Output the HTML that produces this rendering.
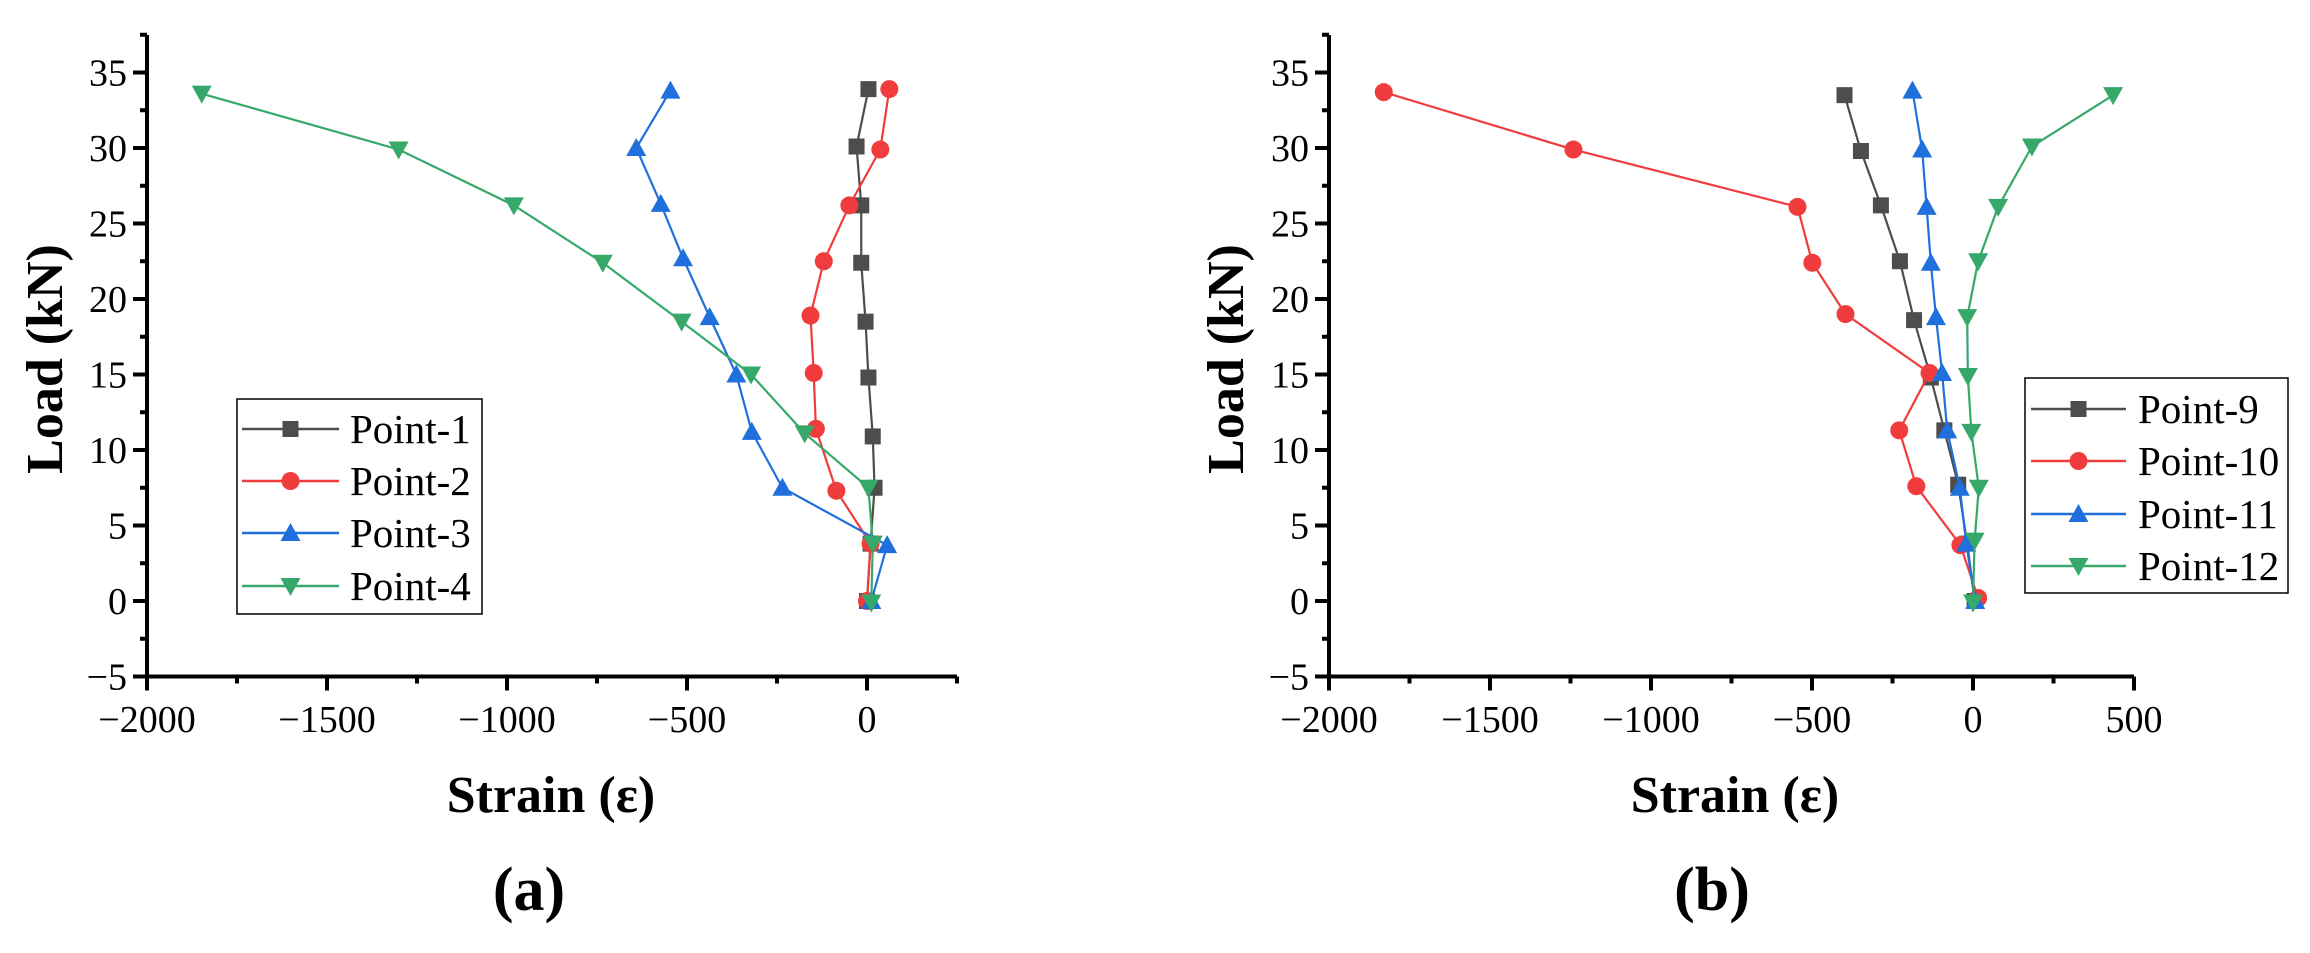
<!DOCTYPE html>
<html><head><meta charset="utf-8"><style>
html,body{margin:0;padding:0;background:#fff;}
svg{display:block;font-family:"Liberation Serif",serif;}
</style></head><body>
<svg id="fig" width="2310" height="953" viewBox="0 0 2310 953" xmlns="http://www.w3.org/2000/svg"></svg>
<script>
const loadsA1=[0,3.8,7.5,10.9,14.8,18.5,22.4,26.2,30.1,33.9];
const strainA1=[0,10,21,16,4,-4,-16,-16,-29,4];
const loadsA2=[0,3.8,7.3,11.4,15.1,18.9,22.5,26.2,29.9,33.9];
const strainA2=[0,10,-85,-142,-148,-157,-120,-49,37,62];
const loadsA3=[0,3.7,7.5,11.2,15.0,18.8,22.7,26.3,30.0,33.8];
const strainA3=[12,56,-235,-320,-363,-437,-511,-573,-641,-546];
const loadsA4=[-0.1,3.8,7.5,11.1,15.0,18.5,22.4,26.2,29.9,33.6];
const strainA4=[12,16,4,-173,-322,-515,-734,-981,-1301,-1848];
const loadsB9=[0,3.8,7.7,11.3,14.8,18.6,22.5,26.2,29.8,33.5];
const strainB9=[5,-18,-46,-89,-131,-183,-227,-286,-348,-399];
const loadsB10=[0.2,3.7,7.6,11.3,15.1,19.0,22.4,26.1,29.9,33.7];
const strainB10=[16,-39,-176,-229,-135,-396,-499,-545,-1241,-1830];
const loadsB11=[0,3.8,7.5,11.3,15.1,18.8,22.4,26.1,29.9,33.8];
const strainB11=[7,-21,-41,-80,-96,-115,-131,-144,-158,-188];
const loadsB12=[-0.1,4.0,7.5,11.2,14.9,18.8,22.5,26.1,30.1,33.5];
const strainB12=[0,5,18,-5,-16,-18,16,78,183,435];
const yTicks=[-5,0,5,10,15,20,25,30,35];
const xTicksA=[-2000,-1500,-1000,-500,0];
const xTicksB=[-2000,-1500,-1000,-500,0,500];
const namesA=["Point-1","Point-2","Point-3","Point-4"];
const namesB=["Point-9","Point-10","Point-11","Point-12"];

const NS="http://www.w3.org/2000/svg";
const svg=document.getElementById('fig');
const colors=["#4d4d4d","#f03c3c","#1f6fdc","#35a86a"];
const markers=["square","circle","up","down"];
function mk(tag,attrs,parent){const e=document.createElementNS(NS,tag);for(const k in attrs)e.setAttribute(k,attrs[k]);(parent||svg).appendChild(e);return e;}
function marker(g,type,x,y,c){
  let e;
  if(type==="square"){e=mk('rect',{x:x-8,y:y-8,width:16,height:16,fill:c},g);}
  else if(type==="circle"){e=mk('circle',{cx:x,cy:y,r:9,fill:c},g);}
  else if(type==="up"){e=mk('polygon',{points:`${x},${y-10} ${x+10},${y+8} ${x-10},${y+8}`,fill:c},g);}
  else {e=mk('polygon',{points:`${x},${y+10} ${x+10},${y-8} ${x-10},${y-8}`,fill:c},g);}
  
  
}
function chart(opt){
  const X=v=>opt.x0+(v-opt.xmin)*opt.pxPer500/500;
  const Y=v=>601-v*75.5/5;
  const g=mk('g',{});
  
  
  // series
  opt.series.forEach((s,i)=>{
    const pts=s.x.map((v,j)=>X(v)+','+Y(s.y[j])).join(' ');
    const pl=mk('polyline',{points:pts,fill:'none',stroke:colors[i],'stroke-width':2.2},g);
    
    
    s.x.forEach((v,j)=>marker(g,markers[i],X(v),Y(s.y[j]),colors[i]));
  });
  // axes
  const xa=mk('line',{x1:opt.x0-2,y1:Y(-5),x2:X(opt.xmax),y2:Y(-5),stroke:'#000','stroke-width':4},g);
  
  
  const ya=mk('line',{x1:opt.x0,y1:Y(-5)+2,x2:opt.x0,y2:35,stroke:'#000','stroke-width':4},g);
  
  
  for(let v=opt.xmin;v<=opt.xmax;v+=250){
    const major=v%500===0;
    mk('line',{x1:X(v),y1:Y(-5),x2:X(v),y2:Y(-5)+(major?14:7),stroke:'#000','stroke-width':4},g);
  }
  opt.xticks.forEach(v=>{
    const t=mk('text',{x:X(v),y:732,'font-size':38,'text-anchor':'middle'},g);
    t.textContent=(v<0?'\u2212'+(-v):v);
    
    
  });
  for(let v=-5;v<=37.5;v+=2.5){
    const major=v%5===0;
    mk('line',{x1:opt.x0,y1:Y(v),x2:opt.x0-(major?14:7),y2:Y(v),stroke:'#000','stroke-width':4},g);
  }
  yTicks.forEach(v=>{
    const t=mk('text',{x:opt.x0-20,y:Y(v)+13,'font-size':38,'text-anchor':'end'},g);
    t.textContent=(v<0?'\u2212'+(-v):v);
    
    
  });
  const yt=mk('text',{x:0,y:0,'font-size':52,'font-weight':'bold','text-anchor':'middle',transform:`translate(${opt.ylx},359) rotate(-90)`},g);
  yt.textContent='Load (kN)';
  
  
  const xt=mk('text',{x:opt.xlx,y:812,'font-size':52,'font-weight':'bold','text-anchor':'middle'},g);
  xt.textContent='Strain (\u03b5)';
  
  
  const pt=mk('text',{x:opt.plx,y:910,'font-size':62,'font-weight':'bold','text-anchor':'middle'},g);
  pt.textContent=opt.panel;
  
  
  // legend
  const L=opt.legend;
  const lg=mk('g',{},g);
  
  
  mk('rect',{x:L.x,y:L.y,width:L.w,height:L.h,fill:'#fff',stroke:'#000','stroke-width':1.5},lg);
  opt.names.forEach((n,i)=>{
    const yy=L.ey[i];
    const ln=mk('line',{x1:L.lx1,y1:yy,x2:L.lx2,y2:yy,stroke:colors[i],'stroke-width':2.5},lg);
    
    
    marker(lg,markers[i],(L.lx1+L.lx2)/2,yy,colors[i]);
    const t=mk('text',{x:L.tx,y:yy+14,'font-size':41},lg);
    t.textContent=n;
    
    
  });
}
chart({id:'a',x0:147,xmin:-2000,xmax:250,pxPer500:180,xticks:xTicksA,names:namesA,panel:'(a)',ylx:62,xlx:551,plx:529,
  series:[{x:strainA1,y:loadsA1},{x:strainA2,y:loadsA2},{x:strainA3,y:loadsA3},{x:strainA4,y:loadsA4}],
  legend:{x:237,y:399,w:245,h:215,lx1:242,lx2:339,tx:350,ey:[429,481,533,586]}});
chart({id:'b',x0:1329,xmin:-2000,xmax:500,pxPer500:161,xticks:xTicksB,names:namesB,panel:'(b)',ylx:1243,xlx:1735,plx:1712,
  series:[{x:strainB9,y:loadsB9},{x:strainB10,y:loadsB10},{x:strainB11,y:loadsB11},{x:strainB12,y:loadsB12}],
  legend:{x:2025,y:378,w:263,h:215,lx1:2031,lx2:2126,tx:2138,ey:[409,461,514,566]}});
</script>
</body></html>
